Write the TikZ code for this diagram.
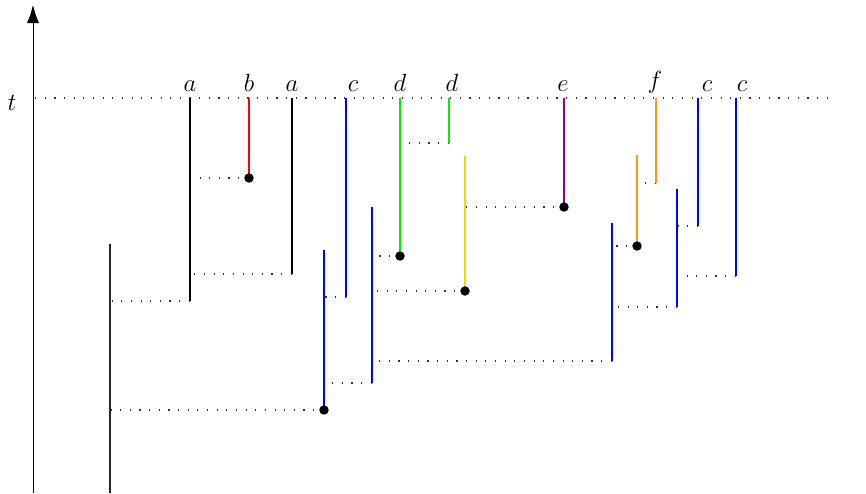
\documentclass[tikz,border=0pt]{standalone}
\usetikzlibrary{arrows.meta}
\definecolor{lgreen}{RGB}{0,240,0}
\definecolor{lgold}{RGB}{255,210,0}
\definecolor{lorange}{RGB}{255,150,20}
\definecolor{lpurple}{RGB}{140,0,140}
\begin{document}
\begin{tikzpicture}[x=0.58pt,y=-0.58pt,
  seg/.style={line width=1.2pt},
  link/.style={line width=0.7pt, black!80, dash pattern=on 0.7pt off 4.9pt},
  tipdot/.style={circle, fill=black, inner sep=0pt, minimum size=5.5pt},
  lbl/.style={anchor=base, inner sep=0pt, font=\Large}]
\useasboundingbox (0,0) rectangle (866,494);

% time axis and the level t
\coordinate (ax0) at (33,493);
\coordinate (ax1) at (33,5);
\draw[line width=0.5pt, black, -{Latex[length=10.5pt,width=7pt]}] (ax0) -- (ax1);
\coordinate (t0) at (35,98);
\coordinate (t1) at (835,98);
\draw[link] (t0) -- (t1);
\node[lbl] (tl) at (12,110) {$t$};

% segments: top and bottom end points
\foreach \n/\x/\ya/\yb in {1/110/244/493, 2/190/98/301, 3/249/98/178, 4/292/98/274,
  5/324/250/410, 6/346/98/297, 7/372/207/383, 8/400/98/256, 9/449/98/143,
  10/465/156/291, 11/564/98/207, 12/612/223/361, 13/637/155/246, 14/656/98/183,
  15/677/189/307, 16/698/98/226, 17/736/98/276}{
  \coordinate (s\n t) at (\x,\ya);
  \coordinate (s\n b) at (\x,\yb);
}

% dotted links from the lower end of a segment to its parent
\foreach \c/\p in {2/1, 3/2, 4/2, 5/1, 6/5, 7/5, 8/7, 9/8, 10/7, 11/10,
  12/7, 13/12, 14/13, 15/12, 16/15, 17/15}{
  \draw[link] (s\c b) -- (s\p t |- s\c b);
}

% the segments themselves
\draw[line width=0.75pt, black!85] (s1t) -- (s1b);
\draw[seg, black] (s2t) -- (s2b);
\draw[seg, red] (s3t) -- (s3b);
\draw[seg, black] (s4t) -- (s4b);
\draw[seg, blue] (s5t) -- (s5b);
\draw[seg, blue] (s6t) -- (s6b);
\draw[seg, blue] (s7t) -- (s7b);
\draw[seg, lgreen] (s8t) -- (s8b);
\draw[seg, lgreen] (s9t) -- (s9b);
\draw[seg, lgold] (s10t) -- (s10b);
\draw[seg, lpurple] (s11t) -- (s11b);
\draw[seg, blue] (s12t) -- (s12b);
\draw[seg, lorange] (s13t) -- (s13b);
\draw[seg, lorange] (s14t) -- (s14b);
\draw[seg, blue] (s15t) -- (s15b);
\draw[seg, blue] (s16t) -- (s16b);
\draw[seg, blue] (s17t) -- (s17b);

% end points
\foreach \n in {3,5,8,10,11,13}{
  \node[tipdot] (d\n) at (s\n b) {};
}

% labels at level t
\node[lbl] (la1) at (190,92) {$a$};
\node[lbl] (lb)  at (249,92) {$b$};
\node[lbl] (la2) at (292,92) {$a$};
\node[lbl] (lc1) at (353,92) {$c$};
\node[lbl] (ld1) at (400,92) {$d$};
\node[lbl] (ld2) at (452,92) {$d$};
\node[lbl] (le)  at (563,92) {$e$};
\node[lbl] (lf)  at (655,88) {$f$};
\node[lbl] (lc2) at (707,92) {$c$};
\node[lbl] (lc3) at (742,92) {$c$};
\end{tikzpicture}
\end{document}
